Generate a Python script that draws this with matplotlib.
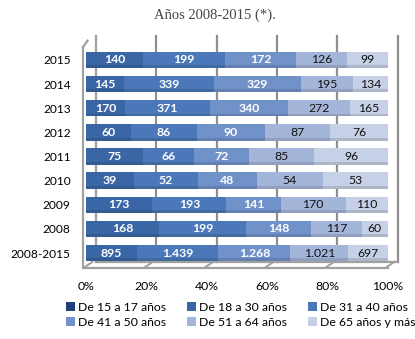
import numpy as np
import matplotlib
matplotlib.use("Agg")
import matplotlib.pyplot as plt
from matplotlib.patches import Patch
from matplotlib.transforms import ScaledTranslation

plt.rcParams["font.family"] = ["Lato", "DejaVu Sans"]

# ======= DATOS =======
years = ["2015", "2014", "2013", "2012", "2011", "2010", "2009", "2008", "2008-2015"]
grupos = ["De 15 a 17 años", "De 18 a 30 años", "De 31 a 40 años",
          "De 41 a 50 años", "De 51 a 64 años", "De 65 años y más"]
de_15_17 = [0, 0, 0, 0, 0, 0, 0, 0, 0]
de_18_30 = [140, 145, 170, 60, 75, 39, 173, 168, 895]
de_31_40 = [199, 339, 371, 86, 66, 52, 193, 199, 1439]
de_41_50 = [172, 329, 340, 90, 72, 48, 141, 148, 1268]
de_51_64 = [126, 195, 272, 87, 85, 54, 170, 117, 1021]
de_65_mas = [99, 134, 165, 76, 96, 53, 110, 60, 697]
x_ticks = [0, 20, 40, 60, 80, 100]
# =====================

series = [de_15_17, de_18_30, de_31_40, de_41_50, de_51_64, de_65_mas]
colores = ["#213f78", "#3a66a6", "#4a78b9", "#7192c9", "#a3b5d8", "#c6d1e7"]
texto_blanco = [True, True, True, True, False, False]

def fmt_es(v):
    return f"{v:,}".replace(",", ".")

fig = plt.figure(figsize=(4.15, 3.39), dpi=100)
ax = fig.add_axes([86 / 415, (339 - 268) / 339, 302 / 415, 223 / 339])

vals = np.array(series, dtype=float)
tot = vals.sum(axis=0)
pct = vals / tot * 100
ypos = np.arange(len(years))[::-1]
h = 0.68

# paredes y rejilla de fondo (desplazadas para simular profundidad)
off = ScaledTranslation(7 / 72, 4.5 / 72, fig.dpi_scale_trans)
fondo = ax.transData + off
for xv in x_ticks[1:]:
    ax.plot([xv, xv], [-0.62, 8.75], color="#8f8f8f", lw=1.6, transform=fondo,
            clip_on=False, zorder=1)
ax.plot([0, 0], [-0.62, 8.75], color="#a0a0a0", lw=1.6, transform=fondo, clip_on=False, zorder=1)
ax.plot([-0.9, -0.9], [-0.55, 8.55], color="#a0a0a0", lw=1.6, clip_on=False, zorder=1)
ax.plot([-0.9, 0.5], [8.55, 8.8], color="#a0a0a0", lw=1.6, clip_on=False, zorder=1)
ax.plot([-0.9, 100], [-0.62, -0.62], color="#a0a0a0", lw=1.6, clip_on=False, zorder=1)
ax.plot([0, 100], [-0.62, -0.62], color="#a0a0a0", lw=1.6, transform=fondo, clip_on=False, zorder=1)
for xv in x_ticks:
    ax.plot([xv - 0.9, xv + 2.2], [-0.62, -0.36], color="#a0a0a0", lw=1.4,
            clip_on=False, zorder=1)

left = np.zeros(len(years))
for i, (p, v) in enumerate(zip(pct, vals)):
    ax.barh(ypos, p, left=left, height=h, color=colores[i], edgecolor="none", zorder=3)
    # franja inferior mas oscura para dar volumen
    ax.barh(ypos - h / 2 + 0.06, p, left=left, height=0.12, color="black", alpha=0.12,
            edgecolor="none", zorder=4)
    for j in range(len(years)):
        if v[j] <= 0:
            continue
        cx = left[j] + p[j] / 2
        if texto_blanco[i]:
            ax.text(cx, ypos[j], fmt_es(int(v[j])), ha="center", va="center",
                    color="white", fontsize=8.8, fontweight="bold", zorder=5)
        else:
            ax.text(cx, ypos[j], fmt_es(int(v[j])), ha="center", va="center",
                    color="#111111", fontsize=8.8, zorder=5)
    left += p

# cara lateral derecha de las barras
ax.barh(ypos + 0.04, 1.3, left=100, height=h - 0.08, color="#b4bac6", edgecolor="none", zorder=2)

ax.set_xlim(0, 100)
ax.set_ylim(-0.62, 8.62)
ax.set_yticks(ypos)
ax.set_yticklabels(years, fontsize=8.6)
ax.set_xticks(x_ticks)
ax.set_xticklabels([f"{t}%" for t in x_ticks], fontsize=8.8)
ax.tick_params(axis="y", length=0, pad=11)
ax.tick_params(axis="x", length=0, pad=9)
for s in ax.spines.values():
    s.set_visible(False)

fig.text(215 / 415, 1 - 15 / 339, "Años 2008-2015 (*).", ha="center", va="center",
         fontsize=10.5, family="Liberation Serif", color="#454545")

# leyenda por filas: reordenar para ncol=3
handles = [Patch(facecolor=c, edgecolor="none") for c in colores]
orden = [0, 3, 1, 4, 2, 5]
fig.legend([handles[k] for k in orden], [grupos[k] for k in orden], ncol=3,
           loc="upper left", bbox_to_anchor=(66 / 415, 1 - 302 / 339), frameon=False,
           fontsize=8.8, handlelength=0.7, handleheight=0.7, handletextpad=0.25,
           columnspacing=1.75, labelspacing=0.3, borderpad=0, borderaxespad=0)

fig.savefig("out.png", dpi=100)
